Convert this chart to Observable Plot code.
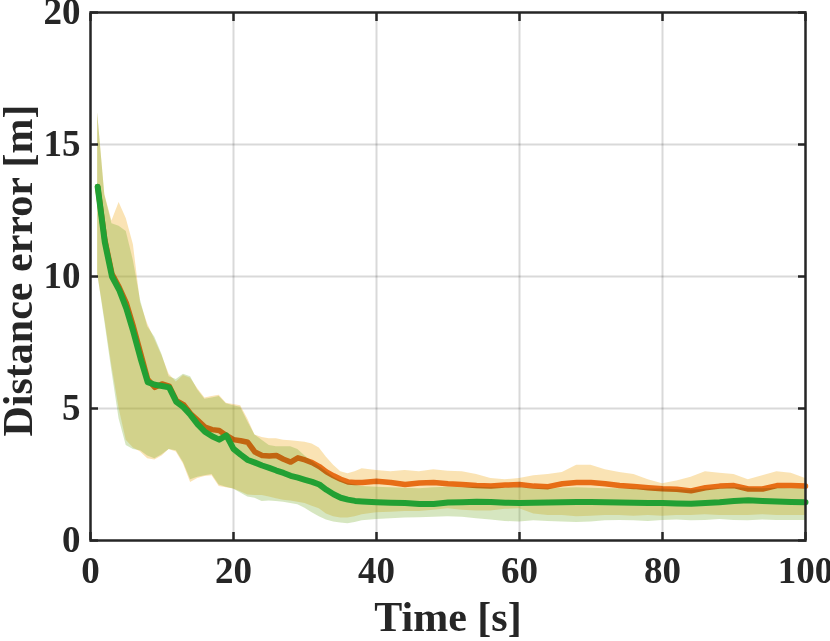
<!DOCTYPE html>
<html>
<head>
<meta charset="utf-8">
<script src="https://cdn.jsdelivr.net/npm/d3@7"></script>
<script src="https://cdn.jsdelivr.net/npm/@observablehq/plot@0.6"></script>
<style>
  html, body { margin: 0; padding: 0; background: white; }
  #chart svg { display: block; }
</style>
</head>
<body>
<div id="chart"></div>
<script>
// Time knots [s]
const time = [1,2,3,4,5,6,7,8,9,10,11,12,13,14,15,16,17,18,19,20,21,22,23,24,25,26,27,28,29,30,31,32,33,34,35,36,37,38,
  40,42,44,46,48,50,52,54,56,58,60,62,64,66,68,70,72,74,76,78,80,82,84,86,88,90,92,94,96,98,100];

// Orange series: mean, upper and lower band
const orangeMean = [13.4,11.4,10.1,9.6,9.0,8.1,7.1,6.1,5.8,5.93, 5.85,5.3,5.15,4.8,4.55,4.3,4.2,4.17,3.98,3.82,
  3.78,3.72,3.35,3.22,3.2,3.22,3.08,2.97,3.13,3.05, 2.95,2.8,2.6,2.45,2.32,2.22,2.2,2.2,
  2.24,2.2,2.12,2.18,2.2,2.15,2.12,2.08,2.06,2.1, 2.12,2.06,2.04,2.15,2.2,2.2,2.15,2.08,2.05,2.0,
  1.96,1.94,1.88,2.0,2.06,2.08,1.95,1.95,2.08,2.08,2.06];
const orangeHigh = [16.2,13.1,12.1,12.8,12.2,11.2,9.0,8.2,7.6,7.0, 6.3,6.0,6.25,6.15,5.75,5.4,5.45,5.5,5.2,5.15,
  5.1,4.6,4.0,3.9,3.85,3.85,3.8,3.78,3.75,3.72, 3.66,3.5,3.15,2.85,2.6,2.53,2.6,2.72,
  2.65,2.6,2.65,2.6,2.68,2.62,2.6,2.5,2.35,2.3, 2.35,2.45,2.5,2.58,2.85,2.85,2.68,2.58,2.5,2.3,
  2.15,2.25,2.4,2.6,2.55,2.5,2.3,2.45,2.6,2.55,2.35];
const orangeLow = [10.1,8.4,6.6,5.0,3.8,3.5,3.35,3.1,3.05,3.2, 3.45,3.35,2.9,2.2,2.35,2.42,2.45,2.05,2.0,1.95,
  1.85,1.72,1.7,1.7,1.65,1.58,1.52,1.5,1.45,1.4, 1.3,1.2,1.0,0.9,0.85,0.85,0.9,0.98,
  1.05,1.07,1.1,1.1,1.15,1.2,1.15,1.12,1.12,1.18, 1.2,1.0,0.95,0.95,0.9,0.92,0.95,0.95,0.92,0.95,
  0.92,0.95,0.95,0.98,0.95,0.95,0.95,0.98,0.95,0.95,0.95];

// Green series: mean, upper and lower band
const greenMean = [13.4,11.3,10.0,9.5,8.8,7.9,6.9,6.0,5.9,5.85, 5.8,5.25,5.05,4.75,4.4,4.12,3.95,3.82,3.98,3.47,
  3.25,3.05,2.95,2.84,2.75,2.65,2.56,2.45,2.38,2.3, 2.22,2.12,1.92,1.75,1.62,1.55,1.5,1.48,
  1.45,1.43,1.42,1.38,1.38,1.44,1.45,1.47,1.46,1.43, 1.42,1.43,1.44,1.45,1.46,1.46,1.45,1.44,1.43,1.42,
  1.42,1.4,1.39,1.42,1.45,1.5,1.52,1.5,1.48,1.46,1.45];
const greenHigh = [16.2,13.1,12.0,11.9,11.7,10.6,9.1,8.1,7.7,7.05, 6.2,6.1,6.3,6.2,5.7,5.35,5.4,5.45,5.18,5.1,
  5.05,4.5,4.0,3.8,3.6,3.55,3.55,3.55,3.45,3.2, 3.0,2.8,2.6,2.4,2.25,2.15,2.1,2.05,
  2.02,2.0,1.98,1.96,2.0,2.02,2.0,2.02,2.0,1.98, 2.0,1.96,1.95,1.98,2.0,1.98,1.96,1.96,1.95,1.94,
  1.95,1.92,1.9,1.94,1.96,2.0,1.98,1.96,1.98,1.96,1.96];
const greenLow = [10.1,8.3,6.4,4.6,3.6,3.45,3.4,3.2,3.1,3.25, 3.45,3.4,2.95,2.3,2.4,2.45,2.5,2.1,2.02,1.95,
  1.8,1.65,1.6,1.48,1.5,1.48,1.45,1.4,1.35,1.22, 1.05,0.9,0.78,0.7,0.66,0.63,0.68,0.75,
  0.8,0.82,0.85,0.86,0.88,0.9,0.88,0.82,0.78,0.72, 0.7,0.75,0.72,0.7,0.68,0.7,0.75,0.76,0.75,0.72,
  0.76,0.78,0.75,0.76,0.8,0.76,0.75,0.78,0.76,0.76,0.76];

const xTicks = [0, 20, 40, 60, 80, 100];
const yTicks = [0, 5, 10, 15, 20];
const xLabel = "Time [s]";
const yLabel = "Distance error [m]";

const rows = time.map((t, i) => ({
  t,
  oMean: orangeMean[i], oHi: orangeHigh[i], oLo: orangeLow[i],
  gMean: greenMean[i], gHi: greenHigh[i], gLo: greenLow[i]
}));

const axisColor = "#262626";
const chart = Plot.plot({
  width: 830,
  height: 641,
  marginLeft: 90,
  marginRight: 25,
  marginTop: 12,
  marginBottom: 101,
  style: {
    fontFamily: '"Liberation Serif", "Times New Roman", serif',
    fontWeight: "bold",
    fontSize: "37px",
    color: axisColor,
    background: "white",
    overflow: "visible"
  },
  x: {domain: [0, 100], label: null},
  y: {domain: [0, 20], label: null},
  marks: [
    Plot.gridX(xTicks.slice(1, -1), {stroke: "#000", strokeOpacity: 0.15, strokeWidth: 2}),
    Plot.gridY(yTicks.slice(1, -1), {stroke: "#000", strokeOpacity: 0.15, strokeWidth: 2}),
    Plot.areaY(rows, {x: "t", y1: "oLo", y2: "oHi", fill: "#EEA208", fillOpacity: 0.3}),
    Plot.areaY(rows, {x: "t", y1: "gLo", y2: "gHi", fill: "#77AC30", fillOpacity: 0.3}),
    Plot.lineY(rows, {x: "t", y: "oMean", stroke: "#EC7A1E", strokeWidth: 5.5, mixBlendMode: "multiply"}),
    Plot.lineY(rows, {x: "t", y: "gMean", stroke: "#22A033", strokeWidth: 6}),
    Plot.axisX(xTicks, {anchor: "bottom", tickSize: 0, tickPadding: 16, fontSize: 37, label: null}),
    Plot.axisX(xTicks, {anchor: "bottom", tickSize: -8, tickFormat: () => "", strokeWidth: 2.5, label: null}),
    Plot.axisX(xTicks, {anchor: "top", tickSize: -8, tickFormat: () => "", strokeWidth: 2.5, label: null}),
    Plot.axisY(yTicks, {anchor: "left", tickSize: 0, tickPadding: 10, fontSize: 37, label: null}),
    Plot.axisY(yTicks, {anchor: "left", tickSize: -8, tickFormat: () => "", strokeWidth: 2.5, label: null}),
    Plot.axisY(yTicks, {anchor: "right", tickSize: -8, tickFormat: () => "", strokeWidth: 2.5, label: null}),
    Plot.frame({stroke: axisColor, strokeWidth: 2.5}),
    Plot.text([xLabel], {text: d => d, frameAnchor: "bottom", lineAnchor: "middle", textAnchor: "middle", dy: 77, fontSize: 42, fill: axisColor}),
    Plot.text([yLabel], {text: d => d, frameAnchor: "left", lineAnchor: "middle", textAnchor: "middle", rotate: -90, dx: -72, dy: -6, fontSize: 42, fill: axisColor})
  ]
});
document.getElementById("chart").appendChild(chart);
</script>
</body>
</html>
